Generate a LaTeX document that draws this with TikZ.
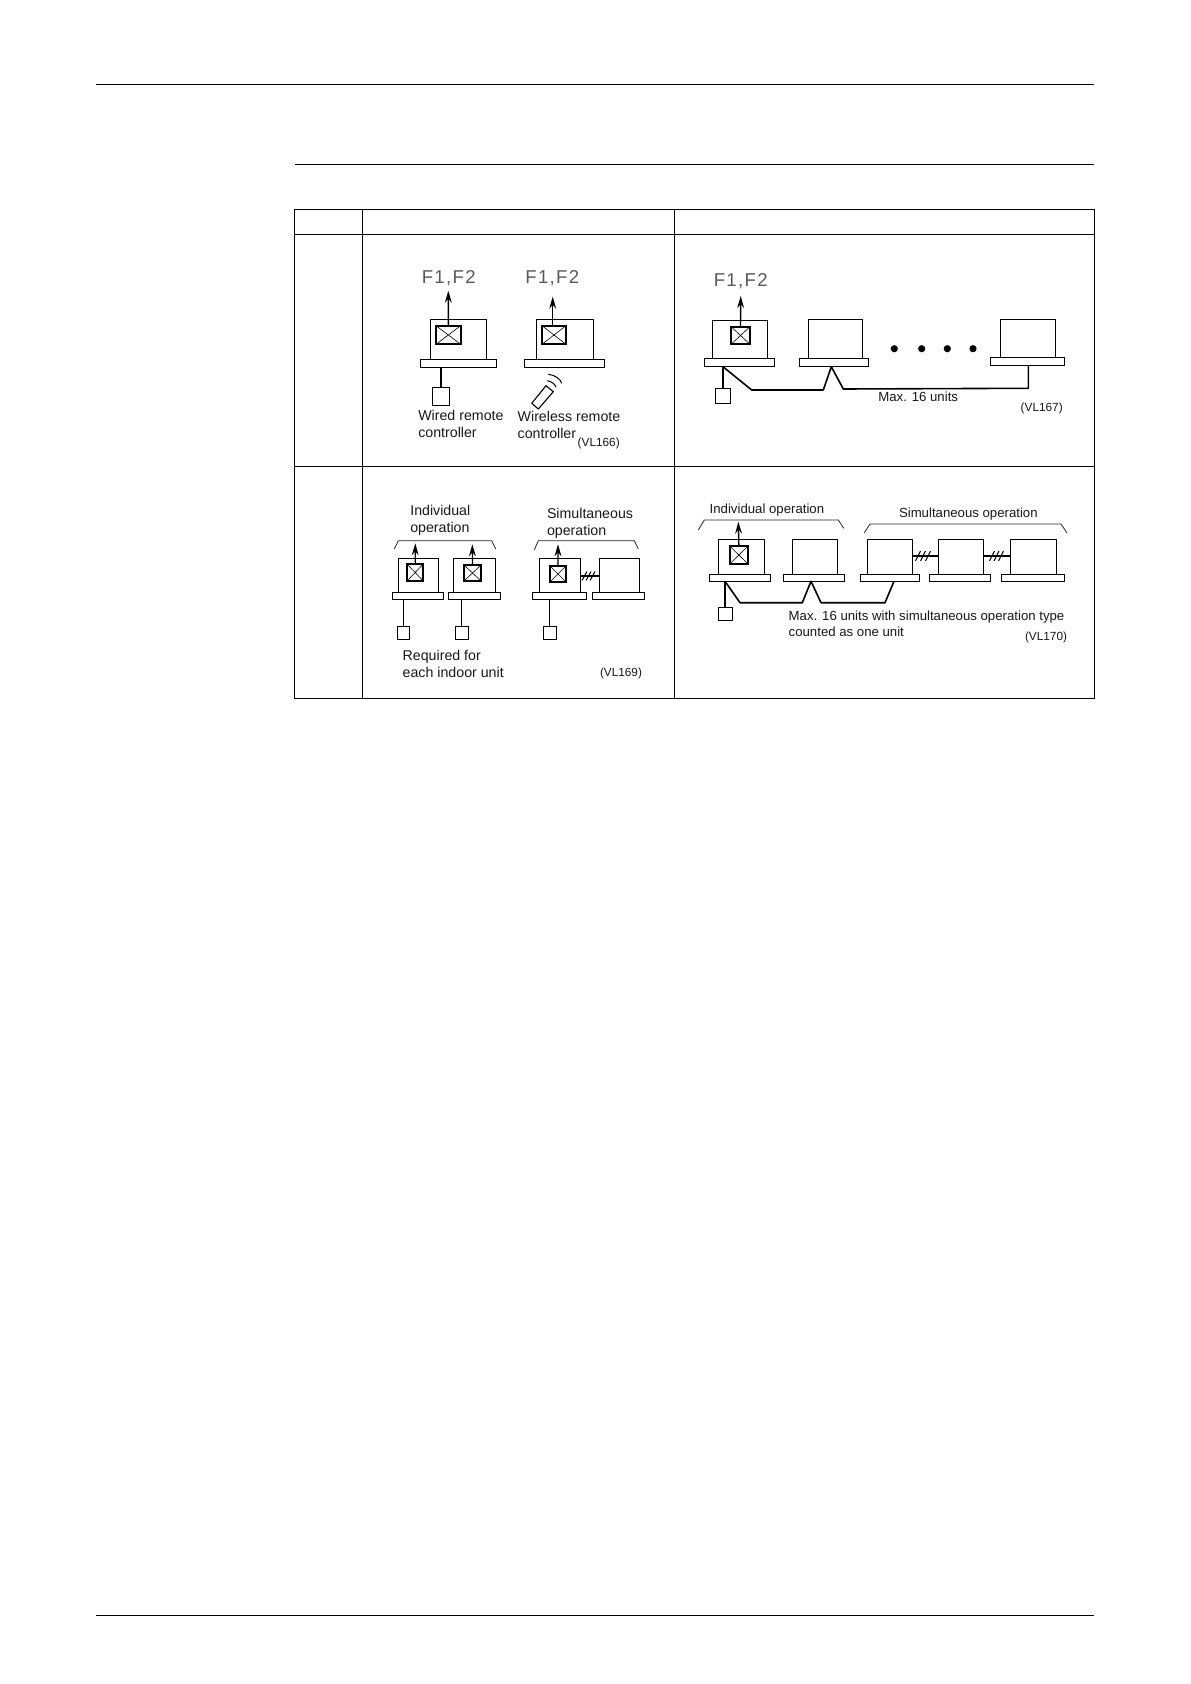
\documentclass[tikz,border=0pt]{standalone}
\usepackage{fontspec}
\setmainfont{Liberation Sans}
\newfontfamily\spacedfont[LetterSpace=7]{Liberation Sans}
\usetikzlibrary{arrows.meta,calc}
\tikzset{
  frame/.style={draw=black,fill=none,line width=0.5pt,inner sep=0pt,outer sep=0pt,anchor=north west},
  bodybox/.style={frame,line width=0.45pt},
  basebar/.style={frame,line width=0.5pt,fill=white},
  iconbox/.style={frame,line width=0.9pt,path picture={\draw[line width=0.3pt] (path picture bounding box.north west)--(path picture bounding box.south east) (path picture bounding box.north east)--(path picture bounding box.south west);}},
  ctrlbox/.style={frame,line width=0.5pt},
  wire/.style={draw=black,line width=0.8pt,line join=round},
  thinwire/.style={draw=black,line width=0.6pt,line join=round},
  uparrow/.style={draw=black,line width=0.7pt,-{Stealth[length=6pt,width=3.4pt]}},
  rule/.style={draw=black,line width=0.5pt},
  bracketline/.style={draw=black!85,line width=0.4pt},
  hatch/.style={draw=black,line width=0.5pt},
  lab/.style={anchor=west,inner sep=0pt,outer sep=0pt,font=\fontsize{7.1}{8.5}\selectfont,text=black!90},
  smalllab/.style={anchor=west,inner sep=0pt,outer sep=0pt,font=\fontsize{6.6}{8}\selectfont,text=black!90},
  tag/.style={anchor=west,inner sep=0pt,outer sep=0pt,font=\fontsize{5.9}{7}\selectfont,text=black!90},
  flab/.style={anchor=center,inner sep=0pt,outer sep=0pt,font=\fontsize{9.3}{10}\spacedfont,text=black!65},
  dotnode/.style={circle,fill=black,inner sep=0pt,minimum size=3.6pt}
}
% name, x1, y1, x2, y2, style
\newcommand{\bx}[6]{\pgfmathsetmacro{\bw}{(#4-#2)*0.5}\pgfmathsetmacro{\bh}{(#5-#3)*0.5}%
  \node[#6,minimum width=\bw pt,minimum height=\bh pt] (#1) at (#2,#3) {};}
\begin{document}
\begin{tikzpicture}[x=0.5pt,y=-0.5pt]
\useasboundingbox (0,0) rectangle (1190,1684);
\fill[white] (0,0) rectangle (1190,1684);
% page rules
\coordinate (ta) at (96,84.5); \coordinate (tb) at (1094,84.5);
\coordinate (sa) at (294.5,164.5); \coordinate (sb) at (1094,164.5);
\coordinate (ba) at (96,1615.5); \coordinate (bb) at (1094,1615.5);
\draw[rule] (ta)--(tb); \draw[rule] (sa)--(sb); \draw[rule] (ba)--(bb);
% table
\coordinate (t1) at (294.5,209.5); \coordinate (t2) at (1094.5,698.5);
\draw[rule] (t1) rectangle (t2);
\draw[rule] (362.5,209.5)--(362.5,698.5);
\draw[rule] (674.5,209.5)--(674.5,698.5);
\draw[rule] (294.5,234.5)--(1094.5,234.5);
\draw[rule] (294.5,466.5)--(1094.5,466.5);

% ---- panel 1
\bx{abody}{430}{319.3}{486.7}{359.3}{bodybox}
\bx{abase}{420.3}{359.3}{496.7}{367.3}{basebar}
\bx{aicon}{436}{325.7}{460.7}{344.3}{iconbox}
\bx{actrl}{432.7}{387.3}{449.3}{405.3}{ctrlbox}
\coordinate (atip) at (448.3,290.7);
\draw[uparrow] (aicon.north)--(atip);
\draw[wire] (actrl.north)--(actrl.north |- abase.south);
\node[flab] (af) at (448.7,278) {F1,F2};
\node[lab] (awired) at (418.3,423.5) [align=left] {Wired remote\\controller};

\bx{bbody}{536}{319.3}{593.7}{359.3}{bodybox}
\bx{bbase}{524.3}{359.3}{604.7}{367.3}{basebar}
\bx{bicon}{542}{325.7}{566}{344.3}{iconbox}
\coordinate (btip) at (552.7,296.7);
\draw[uparrow] (bicon.north -| btip)--(btip);
\node[flab] (bf) at (552.3,278) {F1,F2};
\draw[line width=0.55pt,line join=round] (531.7,403.3)--(546,385.7)--(553.3,391.7)--(538.3,409)--cycle;
\draw[line width=0.5pt] (547.3,380.7) .. controls (551.5,381.5) and (555,384) .. (556,387.3);
\draw[line width=0.5pt] (548.3,374.3) .. controls (555,375) and (560.5,379) .. (561.7,383.3);
\node[lab] (bwl) at (517.7,425.3) [align=left] {Wireless remote\\controller};
\node[tag] (v166) at (577.7,443.3) {(VL166)};

% ---- panel 2
\bx{cbody}{712.7}{320}{767.3}{358.7}{bodybox}
\bx{cbase}{704}{358.7}{774}{366.7}{basebar}
\bx{cicon}{731}{326.7}{750}{344.3}{iconbox}
\bx{cctrl}{715.3}{388.3}{730.7}{403.3}{ctrlbox}
\coordinate (ctip) at (740.7,296);
\draw[uparrow] (cicon.north)--(ctip);
\node[flab] (cf) at (740.7,281) {F1,F2};
\bx{dbody}{808}{319.3}{862.3}{358.7}{bodybox}
\bx{dbase}{799.3}{358.7}{868.7}{366.7}{basebar}
\bx{ebody}{1000}{319}{1055.7}{358}{bodybox}
\bx{ebase}{990.3}{358}{1064.3}{366}{basebar}
\node[dotnode] (d1) at (894.3,348.7) {};
\node[dotnode] (d2) at (921.7,348.7) {};
\node[dotnode] (d3) at (947.3,348.7) {};
\node[dotnode] (d4) at (973,348.7) {};
\draw[wire] (cctrl.north)--(cctrl.north |- cbase.south);
\coordinate (c1) at (722.9,366.7);
\coordinate (c2) at (751.7,390);
\coordinate (c3) at (823.3,390);
\coordinate (c4) at (831.3,366.7);
\coordinate (c5) at (843.3,389);
\coordinate (c6) at (1028.3,388.3);
\draw[wire] (c1)--(c2)--(c3)--(c4)--(c5)--(c6)--(c6 |- ebase.south);
\node[smalllab] (cmax) at (878.3,396.7) {Max. 16 units};
\node[tag] (v167) at (1020.7,408) {(VL167)};

% ---- panel 3
\node[lab] (find) at (410.3,520.5) [align=left] {Individual\\operation};
\draw[bracketline] (394.3,549)--(398.3,540.7)--(491.7,540.7)--(495.7,549);
\bx{fbody}{398}{558.7}{438.3}{592.3}{bodybox}
\bx{fbase}{392.3}{592.3}{443.7}{599.3}{basebar}
\bx{ficon}{407.3}{564.3}{423}{580.7}{iconbox}
\bx{fctrl}{397.3}{626.7}{409.7}{639.7}{ctrlbox}
\coordinate (ftip) at (415.3,543.3);
\draw[uparrow,line width=0.6pt] (ficon.north)--(ftip);
\draw[thinwire] (fctrl.north)--(fctrl.north |- fbase.south);
\bx{gbody}{453.7}{558.7}{495.3}{592.3}{bodybox}
\bx{gbase}{448.3}{592.3}{500.7}{599.3}{basebar}
\bx{gicon}{464.3}{565.3}{480.7}{580.7}{iconbox}
\bx{gctrl}{455.3}{626.7}{468.3}{639.7}{ctrlbox}
\coordinate (gtip) at (472.3,544.3);
\draw[uparrow,line width=0.6pt] (gicon.north)--(gtip);
\draw[thinwire] (gctrl.north)--(gctrl.north |- gbase.south);
\node[lab] (freq) at (402.7,664) [align=left] {Required for\\each indoor unit};
\node[lab] (hsim) at (547,523) [align=left] {Simultaneous\\operation};
\draw[bracketline] (534.3,550)--(538.3,540.7)--(634.3,540.7)--(638.3,549);
\bx{hbody}{539}{558.7}{580.3}{592.3}{bodybox}
\bx{hbase}{532.3}{592.3}{586}{599.3}{basebar}
\bx{hicon}{550.3}{566.3}{565.7}{581.7}{iconbox}
\bx{hctrl}{543.3}{626.7}{556.3}{639.7}{ctrlbox}
\coordinate (htip) at (558,544.3);
\draw[uparrow,line width=0.6pt] (hicon.north)--(htip);
\draw[thinwire] (hctrl.north)--(hctrl.north |- hbase.south);
\bx{ibody}{599.7}{558.7}{639.7}{592.3}{bodybox}
\bx{ibase}{592.7}{592.3}{644.3}{599.3}{basebar}
\coordinate (hl) at (580.3,576);
\draw[wire] (hl)--(hl -| ibody.west);
\foreach \sx in {584,588,592} \draw[hatch] (\sx-2,580.5)--(\sx+3,571.5);
\node[tag] (v169) at (600,673.7) {(VL169)};

% ---- panel 4
\node[smalllab] (jind) at (709.7,510) {Individual operation};
\draw[bracketline] (698.3,530)--(704.3,520)--(838.3,520)--(843.7,528.3);
\bx{jbody}{718.3}{539}{764.3}{574}{bodybox}
\bx{jbase}{709.7}{574}{770.3}{581.3}{basebar}
\bx{jicon}{730}{546.3}{747.7}{563.7}{iconbox}
\bx{jctrl}{718}{607.7}{732}{620}{ctrlbox}
\coordinate (jtip) at (738.3,521.7);
\draw[uparrow] (jicon.north)--(jtip);
\draw[wire] (jctrl.north)--(jctrl.north |- jbase.south);
\bx{kbody}{792}{539}{837}{574}{bodybox}
\bx{kbase}{783.7}{574}{844}{581.3}{basebar}
\bx{lbody}{867.7}{539}{912.7}{574}{bodybox}
\bx{lbase}{860.3}{574}{919.7}{581.3}{basebar}
\bx{mbody}{938.3}{539}{983.7}{574}{bodybox}
\bx{mbase}{929.3}{574}{990}{581.3}{basebar}
\bx{nbody}{1010.3}{539}{1056.7}{574}{bodybox}
\bx{nbase}{1001.7}{574}{1064.3}{581.3}{basebar}
\coordinate (j1) at (725,581.3);
\coordinate (j2) at (740,602.7);
\coordinate (j3) at (802.3,602.7);
\coordinate (j4) at (811,581.3);
\coordinate (j5) at (821,602.7);
\coordinate (j6) at (885,602.7);
\coordinate (j7) at (894,581.3);
\draw[wire] (j1)--(j2)--(j3)--(j4)--(j5)--(j6)--(j7);
\coordinate (ll) at (912.7,556);
\coordinate (ml) at (983.7,556);
\draw[wire] (ll)--(ll -| mbody.west);
\draw[wire] (ml)--(ml -| nbody.west);
\foreach \sx in {918,923,928,992,996.5,1001} \draw[hatch] (\sx-2.5,561)--(\sx+2.5,551);
\node[smalllab] (lsim) at (899,514.5) {Simultaneous operation};
\draw[bracketline] (864.3,532.7)--(870,524)--(1061,524)--(1067,533);
\node[smalllab] (jmax) at (788.7,624) [align=left] {Max. 16 units with simultaneous operation type\\counted as one unit};
\node[tag] (v170) at (1025,637.3) {(VL170)};
\end{tikzpicture}
\end{document}
